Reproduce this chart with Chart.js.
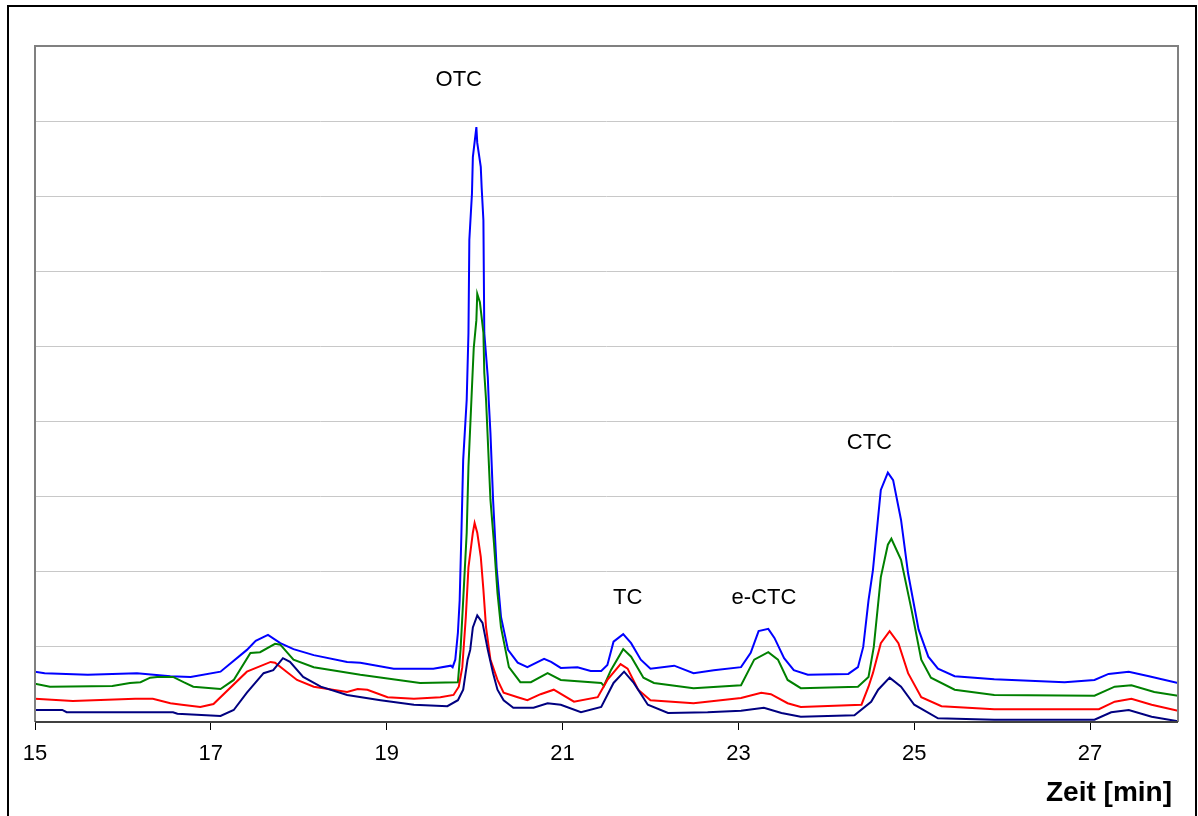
<!DOCTYPE html>
<html>
<head>
<meta charset="utf-8">
<script src="https://cdn.jsdelivr.net/npm/chart.js@4/dist/chart.umd.min.js"></script>
<style>
    html, body { margin:0; padding:0; background:#fff; }
    #wrap { position:relative; width:1198px; height:816px; }
</style>
</head>
<body>
<div id="wrap"><canvas id="chromChart" width="1198" height="816"></canvas></div>
<script>
// time [min], signal (grid units)
const traceBlue = [
    [15.00,0.67],[15.11,0.65],[15.60,0.63],[16.16,0.65],[16.54,0.61],[16.77,0.60],[17.11,0.67],[17.41,0.96],
    [17.51,1.08],[17.65,1.16],[17.79,1.05],[17.94,0.97],[18.17,0.89],[18.55,0.80],[18.70,0.79],[19.08,0.71],
    [19.53,0.71],[19.73,0.75],[19.75,0.73],[19.78,0.83],[19.81,1.19],[19.83,1.62],[19.85,2.52],[19.87,3.49],
    [19.91,4.29],[19.93,5.18],[19.94,6.42],[19.97,7.04],[19.98,7.52],[20.02,7.92],[20.03,7.71],[20.07,7.39],
    [20.08,7.12],[20.10,6.68],[20.11,5.18],[20.15,4.59],[20.16,4.29],[20.18,3.85],[20.21,2.96],[20.25,2.06],
    [20.30,1.40],[20.38,0.96],[20.49,0.79],[20.60,0.73],[20.79,0.84],[20.87,0.80],[20.98,0.72],[21.17,0.73],
    [21.32,0.68],[21.44,0.68],[21.51,0.76],[21.58,1.07],[21.69,1.17],[21.78,1.05],[21.89,0.83],[22.00,0.71],
    [22.27,0.75],[22.49,0.65],[22.72,0.69],[23.03,0.73],[23.14,0.92],[23.23,1.21],[23.34,1.24],[23.41,1.12],
    [23.52,0.85],[23.63,0.69],[23.79,0.63],[24.25,0.64],[24.36,0.73],[24.42,1.00],[24.48,1.62],[24.53,2.02],
    [24.62,3.09],[24.70,3.32],[24.76,3.22],[24.85,2.69],[24.93,1.98],[25.05,1.23],[25.16,0.87],[25.27,0.71],
    [25.46,0.61],[25.91,0.57],[26.71,0.53],[27.05,0.56],[27.21,0.64],[27.44,0.67],[27.67,0.61],[28.00,0.52]
];
const traceGreen = [
    [15.00,0.51],[15.17,0.47],[15.88,0.48],[16.08,0.52],[16.20,0.53],[16.31,0.59],[16.39,0.60],[16.57,0.60],
    [16.69,0.53],[16.80,0.47],[17.11,0.44],[17.26,0.56],[17.45,0.92],[17.56,0.93],[17.73,1.04],[17.79,1.03],
    [17.94,0.83],[18.17,0.73],[18.70,0.63],[19.38,0.52],[19.81,0.53],[19.84,0.96],[19.87,1.62],[19.91,2.52],
    [19.93,3.40],[19.97,4.46],[19.99,4.98],[20.02,5.35],[20.03,5.70],[20.06,5.59],[20.10,5.18],[20.11,4.65],
    [20.13,4.29],[20.18,2.96],[20.22,2.38],[20.26,1.72],[20.30,1.26],[20.39,0.73],[20.52,0.53],[20.64,0.53],
    [20.83,0.65],[20.98,0.56],[21.44,0.52],[21.47,0.48],[21.55,0.69],[21.69,0.97],[21.78,0.87],[21.92,0.59],
    [22.04,0.52],[22.49,0.45],[23.03,0.49],[23.18,0.83],[23.34,0.93],[23.45,0.83],[23.56,0.56],[23.71,0.45],
    [24.36,0.47],[24.48,0.60],[24.54,1.00],[24.62,1.93],[24.70,2.36],[24.74,2.44],[24.85,2.16],[24.97,1.49],
    [25.08,0.83],[25.19,0.59],[25.46,0.43],[25.91,0.36],[27.05,0.35],[27.28,0.47],[27.47,0.49],[27.73,0.40],
    [28.00,0.35]
];
const traceRed = [
    [15.00,0.31],[15.43,0.28],[16.14,0.31],[16.34,0.31],[16.54,0.25],[16.67,0.23],[16.88,0.20],[17.03,0.24],
    [17.41,0.67],[17.68,0.80],[17.73,0.79],[17.98,0.56],[18.17,0.47],[18.55,0.40],[18.67,0.44],[18.78,0.43],
    [19.01,0.33],[19.31,0.31],[19.61,0.33],[19.76,0.36],[19.82,0.47],[19.86,0.73],[19.90,1.40],[19.93,2.06],
    [19.98,2.52],[20.00,2.65],[20.03,2.52],[20.07,2.20],[20.10,1.76],[20.13,1.26],[20.18,0.83],[20.26,0.56],
    [20.33,0.39],[20.49,0.33],[20.60,0.29],[20.75,0.37],[20.90,0.43],[21.13,0.27],[21.40,0.33],[21.51,0.56],
    [21.66,0.77],[21.74,0.71],[21.86,0.43],[22.00,0.29],[22.49,0.25],[23.03,0.32],[23.26,0.39],[23.37,0.37],
    [23.56,0.25],[23.71,0.20],[24.40,0.23],[24.48,0.47],[24.53,0.65],[24.62,1.05],[24.72,1.21],[24.82,1.05],
    [24.93,0.65],[25.08,0.33],[25.31,0.21],[25.91,0.17],[27.10,0.17],[27.28,0.27],[27.47,0.31],[27.70,0.23],
    [28.00,0.15]
];
const traceNavy = [
    [15.00,0.16],[15.31,0.16],[15.36,0.13],[16.57,0.13],[16.62,0.11],[17.11,0.08],[17.26,0.16],[17.41,0.39],
    [17.60,0.65],[17.71,0.69],[17.82,0.85],[17.90,0.80],[18.05,0.60],[18.25,0.47],[18.55,0.36],[18.93,0.29],
    [19.31,0.23],[19.69,0.21],[19.81,0.29],[19.87,0.43],[19.92,0.83],[19.95,0.96],[19.98,1.26],[20.03,1.42],
    [20.09,1.32],[20.15,0.96],[20.21,0.65],[20.26,0.43],[20.33,0.29],[20.44,0.19],[20.67,0.19],[20.83,0.25],
    [20.98,0.23],[21.21,0.13],[21.44,0.20],[21.58,0.52],[21.70,0.67],[21.81,0.52],[21.97,0.23],[22.20,0.12],
    [22.65,0.13],[23.03,0.15],[23.29,0.19],[23.49,0.12],[23.71,0.07],[24.32,0.09],[24.51,0.27],[24.59,0.43],
    [24.72,0.59],[24.85,0.47],[25.00,0.23],[25.27,0.05],[25.91,0.03],[27.05,0.03],[27.24,0.13],[27.44,0.16],
    [27.70,0.07],[28.00,0.01]
];

const xTicks    = [15, 17, 19, 21, 23, 25, 27];
const peakNames = ['OTC', 'TC', 'e-CTC', 'CTC'];
const peakTime  = [19.82, 21.74, 23.29, 24.49];
const peakLevel = [8.55, 1.65, 1.65, 3.72];
const xTitle    = 'Zeit [min]';

const FONT = '"Liberation Sans", Arial, Helvetica, sans-serif';

const toPoints = arr => arr.map(p => ({ x: p[0], y: p[1] }));
const line = (data, color) => ({
    data: toPoints(data), borderColor: color, borderWidth: 2,
    pointRadius: 0, tension: 0, fill: false
});

// frame, peak labels and axis title
const decorPlugin = {
    id: 'decor',
    afterDraw(chart) {
        const { ctx, chartArea: a, scales: { x, y } } = chart;
        ctx.save();
        // outer frame (bottom edge runs off the picture)
        ctx.strokeStyle = '#000';
        ctx.lineWidth = 2;
        ctx.strokeRect(8, 6, 1188, 820);
        // plot frame
        ctx.strokeStyle = '#808080';
        ctx.beginPath();
        ctx.moveTo(a.left, a.bottom); ctx.lineTo(a.left, a.top);
        ctx.lineTo(a.right, a.top); ctx.lineTo(a.right, a.bottom);
        ctx.stroke();
        ctx.strokeStyle = '#404040';
        ctx.beginPath();
        ctx.moveTo(a.left, a.bottom); ctx.lineTo(a.right, a.bottom);
        ctx.stroke();
        // peak labels
        ctx.fillStyle = '#000';
        ctx.font = `22px ${FONT}`;
        ctx.textAlign = 'center';
        ctx.textBaseline = 'middle';
        peakNames.forEach((n, i) => {
            ctx.fillText(n, x.getPixelForValue(peakTime[i]), y.getPixelForValue(peakLevel[i]));
        });
        // axis title
        ctx.font = `bold 28px ${FONT}`;
        ctx.textAlign = 'right';
        ctx.fillText(xTitle, a.right - 6, 793);
        ctx.restore();
    }
};

new Chart(document.getElementById('chromChart'), {
    type: 'line',
    data: {
        datasets: [
            line(traceNavy,  '#000080'),
            line(traceRed,   '#ff0000'),
            line(traceGreen, '#008000'),
            line(traceBlue,  '#0000ff')
        ]
    },
    options: {
        responsive: false,
        animation: false,
        layout: { padding: { left: 35, top: 46, right: 20, bottom: 0 } },
        plugins: { legend: { display: false }, tooltip: { enabled: false } },
        scales: {
            x: {
                type: 'linear', min: 15, max: 28,
                afterBuildTicks: s => { s.ticks = xTicks.map(v => ({ value: v })); },
                afterFit: s => { s.height = 94; },
                grid: { drawOnChartArea: false, drawTicks: true, tickLength: 8, tickColor: '#000', lineWidth: 1 },
                border: { display: false },
                ticks: { color: '#000', font: { family: FONT, size: 22 }, padding: 11, maxRotation: 0, autoSkip: false }
            },
            y: {
                min: 0, max: 9,
                afterFit: s => { s.width = 0; },
                ticks: { display: false, stepSize: 1 },
                grid: { color: '#c8c8c8', lineWidth: 1, drawTicks: false },
                border: { display: false }
            }
        }
    },
    plugins: [decorPlugin]
});
</script>
</body>
</html>
